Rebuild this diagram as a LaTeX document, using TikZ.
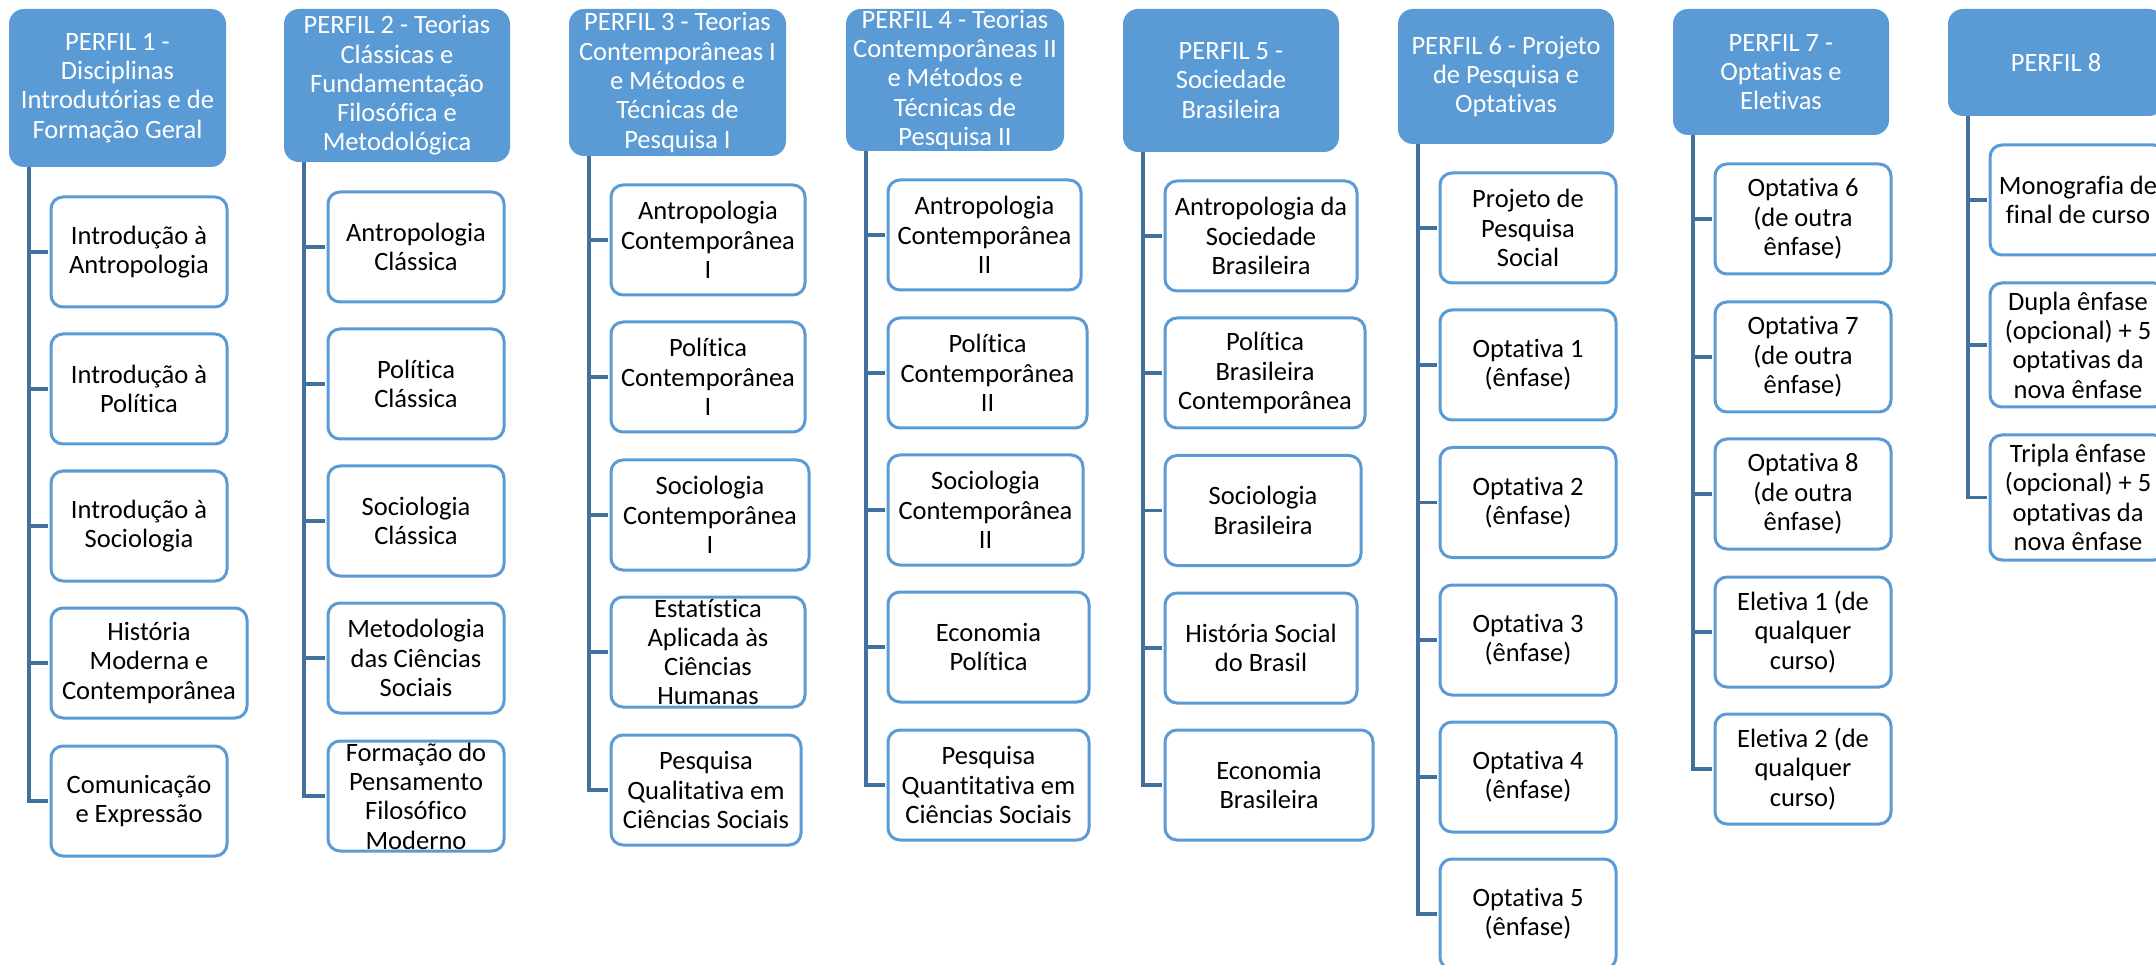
\documentclass[tikz,border=0pt]{standalone}
\usepackage{fontspec}
\setmainfont{Carlito}[Ligatures=CommonOff]
\definecolor{hdrblue}{RGB}{91,155,213}
\definecolor{kidblue}{RGB}{91,155,213}
\definecolor{trunkblue}{RGB}{65,113,156}
\tikzset{
  hdr/.style={draw=none, fill=hdrblue, rounded corners=15pt, inner sep=0pt},
  kid/.style={draw=kidblue, line width=3pt, fill=white, rounded corners=12pt, inner sep=0pt, minimum height=110pt},
  txt/.style={align=center, inner sep=0pt, text=black, font={\fontsize{26.5}{29.3}\selectfont}},
  htxt/.style={txt, text=white},
  trunk/.style={draw=trunkblue, line width=3.5pt},
}
\newcommand\kidbox[5]{%
  \node[kid, minimum width=#4pt] (#1) at (#2,#3) {};
  \node[txt] (#1t) at (#1.center) {#5};}
\newcommand\hdrbox[6]{%
  \node[hdr, minimum width=#4pt, minimum height=#5pt] (#1) at (#2,#3) {};
  \node[htxt] (#1t) at (#1.center) {#6};}
\begin{document}
\begin{tikzpicture}[x=1pt,y=-1pt]
\useasboundingbox (0,0) rectangle (2156,965);
\fill[white] (0,0) rectangle (2156,965);

% ---------- PERFIL 1
\hdrbox{h1}{117.5}{88}{217}{158}{PERFIL 1 -\\Disciplinas\\Introdutórias e de\\Formação Geral}
\kidbox{p1a}{139}{252}{176}{Introdução à\\Antropologia}
\kidbox{p1b}{139}{389}{176}{Introdução à\\Política}
\kidbox{p1c}{139}{526}{176}{Introdução à\\Sociologia}
\kidbox{p1d}{149}{663}{196}{História\\Moderna e\\Contemporânea}
\kidbox{p1e}{139}{801}{176}{Comunicação\\e Expressão}

% ---------- PERFIL 2
\hdrbox{h2}{397}{85.5}{226}{153}{PERFIL 2 - Teorias\\Clássicas e\\Fundamentação\\Filosófica e\\Metodológica}
\kidbox{p2a}{416}{247}{176}{Antropologia\\Clássica}
\kidbox{p2b}{416}{384}{176}{Política\\Clássica}
\kidbox{p2c}{416}{521}{176}{Sociologia\\Clássica}
\kidbox{p2d}{416}{658}{176}{Metodologia\\das Ciências\\Sociais}
\kidbox{p2e}{416}{796}{176}{Formação do\\Pensamento\\Filosófico\\Moderno}

% ---------- PERFIL 3
\hdrbox{h3}{677.5}{82.5}{217}{147}{PERFIL 3 - Teorias\\Contemporâneas I\\e Métodos e\\Técnicas de\\Pesquisa I}
\kidbox{p3a}{708}{240}{194}{Antropologia\\Contemporânea\\I}
\kidbox{p3b}{708}{377}{194}{Política\\Contemporânea\\I}
\kidbox{p3c}{710}{515}{198}{Sociologia\\Contemporânea\\I}
\kidbox{p3d}{708}{652}{194}{Estatística\\Aplicada às\\Ciências\\Humanas}
\kidbox{p3e}{706}{790}{190}{Pesquisa\\Qualitativa em\\Ciências Sociais}

% ---------- PERFIL 4
\hdrbox{h4}{955}{80}{218}{142}{PERFIL 4 - Teorias\\Contemporâneas II\\e Métodos e\\Técnicas de\\Pesquisa II}
\kidbox{p4a}{984.5}{235}{193}{Antropologia\\Contemporânea\\II}
\kidbox{p4b}{987.5}{373}{199}{Política\\Contemporânea\\II}
\kidbox{p4c}{985.5}{510}{195}{Sociologia\\Contemporânea\\II}
\kidbox{p4d}{988.5}{647}{201}{Economia\\Política}
\kidbox{p4e}{988.5}{785}{201}{Pesquisa\\Quantitativa em\\Ciências Sociais}

% ---------- PERFIL 5
\hdrbox{h5}{1231}{80.5}{216}{143}{PERFIL 5 -\\Sociedade\\Brasileira}
\kidbox{p5a}{1261}{236}{192}{Antropologia da\\Sociedade\\Brasileira}
\kidbox{p5b}{1265}{373}{200}{Política\\Brasileira\\Contemporânea}
\kidbox{p5c}{1263}{510.5}{196}{Sociologia\\Brasileira}
\kidbox{p5d}{1261}{648}{192}{História Social\\do Brasil}
\kidbox{p5e}{1269}{785}{208}{Economia\\Brasileira}

% ---------- PERFIL 6
\hdrbox{h6}{1506}{76.5}{216}{135}{PERFIL 6 - Projeto\\de Pesquisa e\\Optativas}
\kidbox{p6a}{1528}{228}{176}{Projeto de\\Pesquisa\\Social}
\kidbox{p6b}{1528}{365}{176}{Optativa 1\\(ênfase)}
\kidbox{p6c}{1528}{502.5}{176}{Optativa 2\\(ênfase)}
\kidbox{p6d}{1528}{640}{176}{Optativa 3\\(ênfase)}
\kidbox{p6e}{1528}{777}{176}{Optativa 4\\(ênfase)}
\kidbox{p6f}{1528}{914}{176}{Optativa 5\\(ênfase)}

% ---------- PERFIL 7
\hdrbox{h7}{1781}{72}{216}{126}{PERFIL 7 -\\Optativas e\\Eletivas}
\kidbox{p7a}{1803}{219}{176}{Optativa 6\\(de outra\\ênfase)}
\kidbox{p7b}{1803}{357}{176}{Optativa 7\\(de outra\\ênfase)}
\kidbox{p7c}{1803}{494}{176}{Optativa 8\\(de outra\\ênfase)}
\kidbox{p7d}{1803}{632}{176}{Eletiva 1 (de\\qualquer\\curso)}
\kidbox{p7e}{1803}{769}{176}{Eletiva 2 (de\\qualquer\\curso)}

% ---------- PERFIL 8
\hdrbox{h8}{2056}{62.5}{216}{107}{PERFIL 8}
\node[kid, minimum width=176pt] (p8a) at (2078,200) {};
\node[txt] (p8at) at (p8a.center) {Monografia de\\final de curso};
\node[kid, minimum width=176pt, minimum height=124pt] (p8b) at (2078,345) {};
\node[txt] (p8bt) at (p8b.center) {Dupla ênfase\\(opcional) + 5\\optativas da\\nova ênfase};
\node[kid, minimum width=176pt, minimum height=125pt] (p8c) at (2078,497.5) {};
\node[txt] (p8ct) at (p8c.center) {Tripla ênfase\\(opcional) + 5\\optativas da\\nova ênfase};

% ---------- connectors (trunks and ticks)
\foreach \h/\kids in {h1/{p1a,p1b,p1c,p1d,p1e},h2/{p2a,p2b,p2c,p2d,p2e},h3/{p3a,p3b,p3c,p3d,p3e},h4/{p4a,p4b,p4c,p4d,p4e},h5/{p5a,p5b,p5c,p5d,p5e},h6/{p6a,p6b,p6c,p6d,p6e,p6f},h7/{p7a,p7b,p7c,p7d,p7e},h8/{p8a,p8b,p8c}}{
  \foreach \k in \kids {
    \draw[trunk] ([xshift=20pt]\h.south west) |- ([xshift=-1.5pt]\k.west);
  }
}
\end{tikzpicture}
\end{document}
